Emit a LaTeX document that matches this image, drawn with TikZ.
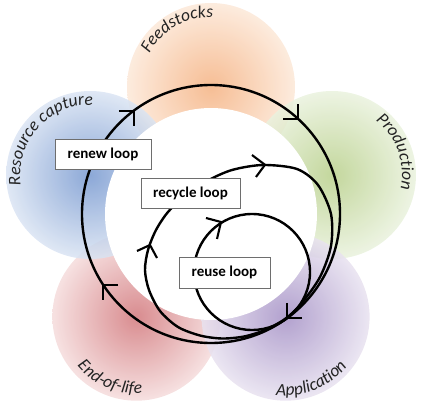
\documentclass[tikz,border=0pt]{standalone}
\usepackage{fontspec}
\setmainfont{Carlito}
\usetikzlibrary{decorations.text}
\definecolor{orIn}{RGB}{245,178,130}
\definecolor{orOut}{RGB}{252,232,216}
\definecolor{blIn}{RGB}{120,153,208}
\definecolor{blOut}{RGB}{218,228,243}
\definecolor{grIn}{RGB}{185,208,140}
\definecolor{grOut}{RGB}{234,242,222}
\definecolor{puIn}{RGB}{165,145,198}
\definecolor{puOut}{RGB}{232,226,240}
\definecolor{reIn}{RGB}{210,120,124}
\definecolor{reOut}{RGB}{245,220,220}
\definecolor{boxgray}{RGB}{110,110,110}
\definecolor{lblcol}{RGB}{35,35,35}
\newcommand\lblfont{\itshape\fontsize{17.5}{20}\selectfont\color{lblcol}}
\begin{document}
\begin{tikzpicture}[x=1pt,y=-1pt,
  petal/.style={fill opacity=0.85, shading=radial},
  loopline/.style={line width=2.4pt, draw=black},
  barbline/.style={line width=2.1pt, draw=black, line join=miter},
  loopbox/.style={draw=boxgray, line width=0.9pt, fill=white, inner sep=0pt,
    font=\bfseries\fontsize{15}{18}\selectfont, text=black},
  lbl/.style={decorate, decoration={text along path, text align=center}},
]
\useasboundingbox (0,0) rectangle (424,404);
\coordinate (mid) at (211,214);
\coordinate (feed) at (211,87);
\coordinate (prod) at (332,175);
\coordinate (appl) at (285.6,316.7);
\coordinate (eol) at (136.4,316.7);
\coordinate (resc) at (90.2,175);
\coordinate (reusec) at (252,272);

% petals
\shade[petal, inner color=orIn, outer color=orOut] (feed) circle[radius=84];
\shade[petal, inner color=grIn, outer color=grOut] (prod) circle[radius=84];
\shade[petal, inner color=reIn, outer color=reOut] (eol) circle[radius=84];
\shade[petal, inner color=puIn, outer color=puOut] (appl) circle[radius=84];
\shade[petal, inner color=blIn, outer color=blOut] (resc) circle[radius=84];

% white centre
\fill[white] (mid) circle[radius=106];

% renew loop
\draw[loopline] (mid) circle[radius=129];
\coordinate (tlT) at (133.9,110.6);
\coordinate (tlA) at (118.9,110.6);
\coordinate (tlB) at (133.9,125.6);
\coordinate (trT) at (298,118.8);
\coordinate (trA) at (283,118.8);
\coordinate (trB) at (298,103.8);
\coordinate (brT) at (287,318);
\coordinate (brA) at (287,303);
\coordinate (brB) at (302,318);
\coordinate (blT) at (103,285);
\coordinate (blA) at (118,285);
\coordinate (blB) at (103,300);
\draw[barbline] (tlA) -- (tlT) -- (tlB);
\draw[barbline] (trA) -- (trT) -- (trB);
\draw[barbline] (brA) -- (brT) -- (brB);
\draw[barbline] (blA) -- (blT) -- (blB);

% recycle loop
\draw[loopline]
  plot[smooth cycle] coordinates {(232,170) (263,165) (297,169) (318,185) (331,214)
   (331,246) (320,277) (301,304) (285,319) (265,330) (244,336.5) (222,338.5)
   (200,335.5) (178,327) (160,311) (149,290) (145,270) (148,250) (156,230)
   (168,212) (185,196) (207,181)};
\coordinate (rcT) at (265,164.8);
\coordinate (rcA) at (252,155);
\coordinate (rcB) at (256,177);
\coordinate (rlT) at (150,245);
\coordinate (rlA) at (137,251);
\coordinate (rlB) at (157,258);
\draw[barbline] (rcA) -- (rcT) -- (rcB);
\draw[barbline] (rlA) -- (rlT) -- (rlB);

% reuse loop
\draw[loopline] (reusec) circle[radius=58];
\coordinate (ruT) at (221,222);
\coordinate (ruA) at (206,218);
\coordinate (ruB) at (217,239);
\draw[barbline] (ruA) -- (ruT) -- (ruB);

% boxes
\node[loopbox, minimum width=96pt, minimum height=30pt] (renew) at (103,154) {renew loop};
\node[loopbox, minimum width=99pt, minimum height=30pt] (recycle) at (190.5,193) {recycle loop};
\node[loopbox, minimum width=91pt, minimum height=31pt] (reuse) at (224.5,272.5) {reuse loop};

% labels
\path[lbl, decoration={text={|\lblfont|Feedstocks}}]
  (feed) ++(-180:70) arc[start angle=-180, end angle=-60, radius=70];
\path[lbl, decoration={text={|\lblfont|Resource capture}}]
  (resc) ++(-213:70) arc[start angle=-213, end angle=-63, radius=70];
\path[lbl, decoration={text={|\lblfont|Production}}]
  (prod) ++(-80:70) arc[start angle=-80, end angle=40, radius=70];
\path[lbl, decoration={text={|\lblfont|Application}}]
  (appl) ++(128:79) arc[start angle=128, end angle=8, radius=79];
\path[lbl, decoration={text={|\lblfont|End-of-life}}]
  (eol) ++(173:77) arc[start angle=173, end angle=53, radius=77];
\end{tikzpicture}
\end{document}
